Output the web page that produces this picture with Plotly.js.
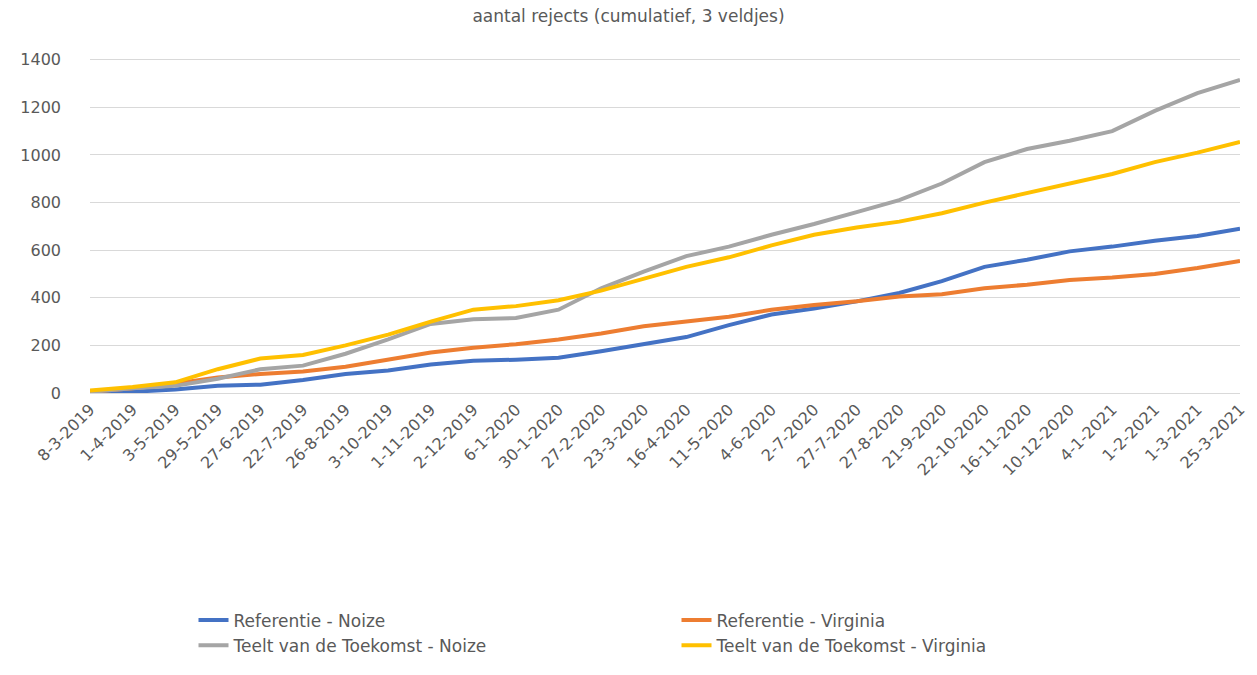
<!DOCTYPE html>
<html>
<head>
<meta charset="utf-8">
<script src="https://cdn.plot.ly/plotly-3.0.1.min.js"></script>
<style>body{margin:0;background:#fff}#plot{width:1257px;height:675px}</style>
</head>
<body>
<div id="plot"></div>
<script>
// tick dates (category axis)
const dates = ["8-3-2019","1-4-2019","3-5-2019","29-5-2019","27-6-2019","22-7-2019","26-8-2019",
  "3-10-2019","1-11-2019","2-12-2019","6-1-2020","30-1-2020","27-2-2020","23-3-2020","16-4-2020",
  "11-5-2020","4-6-2020","2-7-2020","27-7-2020","27-8-2020","21-9-2020","22-10-2020","16-11-2020",
  "10-12-2020","4-1-2021","1-2-2021","1-3-2021","25-3-2021"];

const refNoize = [0,5,15,30,35,55,80,95,120,135,140,148,175,205,235,285,330,355,385,420,470,530,560,595,615,640,660,690];
const refVirginia = [5,20,40,65,80,90,110,140,170,190,205,225,250,280,300,320,350,370,385,405,415,440,455,475,485,500,525,555];
const tvtNoize = [5,20,30,60,100,115,165,225,290,310,315,350,440,510,575,615,665,710,760,810,880,970,1025,1060,1100,1185,1260,1315];
const tvtVirginia = [10,25,45,100,145,160,200,245,300,350,365,390,430,480,530,570,620,665,695,720,755,800,840,880,920,970,1010,1055];

function trace(name, y, color, leg) {
  return {x: dates, y: y, name: name, type: "scatter", mode: "lines", legend: leg,
    line: {color: color, width: 4}};
}

const data = [
  trace("Referentie - Noize", refNoize, "#4472c4", "legend"),
  trace("Referentie - Virginia", refVirginia, "#ed7d31", "legend2"),
  trace("Teelt van de Toekomst - Noize", tvtNoize, "#a5a5a5", "legend"),
  trace("Teelt van de Toekomst - Virginia", tvtVirginia, "#ffc000", "legend2")
];

const legFont = {size: 17, color: "#595959"};
const layout = {
  width: 1257, height: 675,
  margin: {l: 90, r: 17, t: 55, b: 213},
  font: {family: "DejaVu Sans", color: "#595959", size: 16},
  title: {text: "aantal rejects (cumulatief, 3 veldjes)", font: {size: 17, color: "#595959"}, x: 0.5, y: 0.985},
  xaxis: {type: "category", tickangle: -45, showgrid: false, showline: true, linecolor: "#d9d9d9",
    ticks: "", tickfont: {size: 16}, automargin: false},
  yaxis: {range: [0, 1420], tickvals: [0,200,400,600,800,1000,1200,1400], gridcolor: "#d9d9d9",
    zeroline: false, ticks: "", ticklabelstandoff: 28, tickfont: {size: 16}, automargin: false},
  legend: {x: 0.09, y: -0.62, xanchor: "left", yanchor: "top", font: legFont, tracegroupgap: 0},
  legend2: {x: 0.51, y: -0.62, xanchor: "left", yanchor: "top", font: legFont, tracegroupgap: 0},
  showlegend: true
};

Plotly.newPlot("plot", data, layout, {displayModeBar: false});
</script>
</body>
</html>
